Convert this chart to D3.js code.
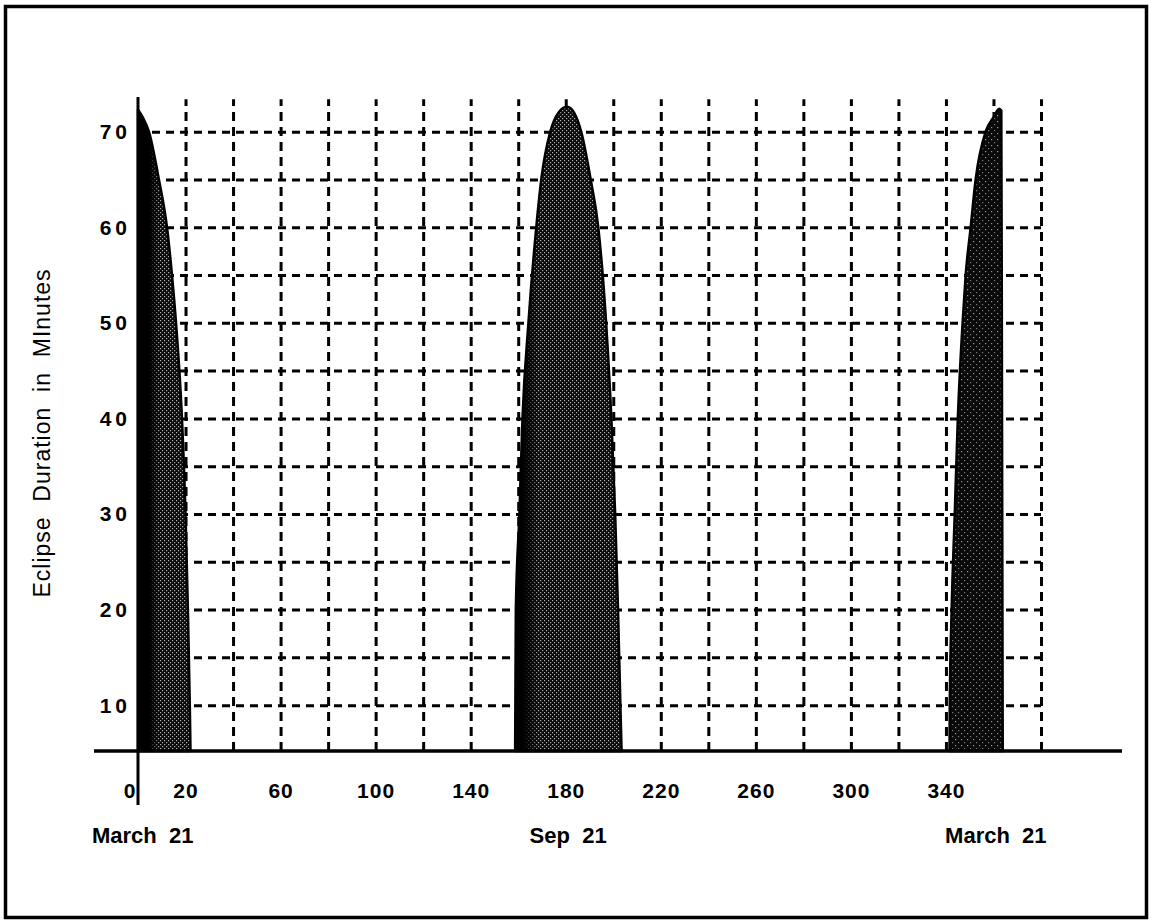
<!DOCTYPE html>
<html>
<head>
<meta charset="utf-8">
<script src="https://cdn.jsdelivr.net/npm/d3@7"></script>
<style>
  html, body { margin: 0; padding: 0; background: #fff; }
  svg { display: block; }
  text { font-family: "Liberation Sans", Arial, Helvetica, sans-serif; fill: #000; }
</style>
</head>
<body>
<svg id="chart" width="1151" height="923"></svg>
<script>
// ---- data ----
// Eclipse season 1 (around March 21, start of year)
const season1Days    = [0, 2, 4.6, 8.8, 12.2, 14.3, 16, 18.5, 20, 21, 21.8, 22.1];
const season1Minutes = [72.3, 71.5, 70, 65, 60, 55, 50, 40, 30, 20, 10, 5.2];
// Eclipse season 2 (around Sep 21)
const season2Days    = [158.7, 158.8, 159, 160.5, 161.8, 164.3, 167.6, 169.7, 173.5, 177, 180.5, 183.5, 186.5, 190.5, 193.7, 197, 199.2, 200.8, 202, 203, 203.5];
const season2Minutes = [5.2, 10, 20, 30, 40, 50, 60, 65, 70, 72, 72.6, 72, 70, 65, 60, 50, 40, 30, 20, 10, 5.2];
// Eclipse season 3 (around March 21, end of year)
const season3Days    = [341.5, 341.6, 342.4, 343.7, 345, 347, 348.3, 350.4, 352.5, 356.7, 360, 362.4, 363.3, 363.6, 363.9];
const season3Minutes = [5.2, 10, 20, 30, 40, 50, 55, 60, 65, 70, 71.5, 72.4, 72.2, 40, 5.2];

const xTickLabels  = [0, 20, 60, 100, 140, 180, 220, 260, 300, 340];
const xGridValues  = [20, 40, 60, 80, 100, 120, 140, 160, 180, 200, 220, 240, 260, 280, 300, 320, 340, 360, 380];
const yTickLabels  = [10, 20, 30, 40, 50, 60, 70];
const yGridValues  = [10, 15, 20, 25, 30, 35, 40, 45, 50, 55, 60, 65, 70];
const dateLabels   = ["March  21", "Sep  21", "March  21"];
const dateDays     = [2, 181, 361];
const yTitle       = "Eclipse  Duration  in  MInutes";

// ---- layout ----
const svg = d3.select("#chart");
const x = d3.scaleLinear().domain([0, 380]).range([138, 1041]);
const y = d3.scaleLinear().domain([5.2, 73.4]).range([751, 99.2]);
const baseY = y(5.2);

// frame
svg.append("rect")
  .attr("x", 5.5).attr("y", 6.5).attr("width", 1141).attr("height", 911)
  .attr("fill", "none").attr("stroke", "#000").attr("stroke-width", 3.5);

// patterns
const defs = svg.append("defs");
const p1 = defs.append("pattern").attr("id", "stip").attr("patternUnits", "userSpaceOnUse")
  .attr("width", 4).attr("height", 4);
p1.append("rect").attr("width", 4).attr("height", 4).attr("fill", "#0a0a0a");
p1.append("rect").attr("x", 0).attr("y", 0).attr("width", 1.2).attr("height", 1.2).attr("fill", "#b0b0b0");
p1.append("rect").attr("x", 2).attr("y", 2).attr("width", 1.2).attr("height", 1.2).attr("fill", "#b0b0b0");

const p2 = defs.append("pattern").attr("id", "stipDark").attr("patternUnits", "userSpaceOnUse")
  .attr("width", 6).attr("height", 6);
p2.append("rect").attr("width", 6).attr("height", 6).attr("fill", "#0a0a0a");
p2.append("rect").attr("x", 1).attr("y", 1).attr("width", 1.2).attr("height", 1.2).attr("fill", "#9a9a9a");
p2.append("rect").attr("x", 4).attr("y", 4).attr("width", 1.2).attr("height", 1.2).attr("fill", "#777");

function leftDark(id, stop1, stop2) {
  const g = defs.append("linearGradient").attr("id", id)
    .attr("x1", "0%").attr("x2", "100%").attr("y1", "0%").attr("y2", "0%");
  g.append("stop").attr("offset", "0%").attr("stop-color", "#000").attr("stop-opacity", 1);
  g.append("stop").attr("offset", stop1).attr("stop-color", "#000").attr("stop-opacity", 1);
  g.append("stop").attr("offset", stop2).attr("stop-color", "#000").attr("stop-opacity", 0);
  g.append("stop").attr("offset", "100%").attr("stop-color", "#000").attr("stop-opacity", 0);
}
leftDark("g1", "22%", "40%");
leftDark("g2", "8%", "22%");

// grid lines
const dashStyle = sel => sel.selectAll(".tick line")
  .attr("stroke", "#000").attr("stroke-width", 3);

const xGrid = svg.append("g").attr("transform", `translate(0,${baseY})`)
  .call(d3.axisBottom(x).tickValues(xGridValues).tickSize(-(baseY - y(73.4))).tickFormat(""));
xGrid.select(".domain").remove();
dashStyle(xGrid);
xGrid.selectAll(".tick line").attr("stroke-dasharray", "9,6");

const yGrid = svg.append("g").attr("transform", `translate(${x(0)},0)`)
  .call(d3.axisLeft(y).tickValues(yGridValues).tickSize(-(x(380) - x(0))).tickFormat(""));
yGrid.select(".domain").remove();
dashStyle(yGrid);
yGrid.selectAll(".tick line").attr("stroke-dasharray", "8,6");

// eclipse seasons
const area = d3.area()
  .x(d => x(d[0]))
  .y0(baseY)
  .y1(d => y(d[1]))
  .curve(d3.curveMonotoneX);

const seasons = [
  { pts: d3.zip(season1Days, season1Minutes), fill: "url(#stip)", over: "url(#g1)" },
  { pts: d3.zip(season2Days, season2Minutes), fill: "url(#stip)", over: "url(#g2)" },
  { pts: d3.zip(season3Days, season3Minutes), fill: "url(#stipDark)", over: null }
];
seasons.forEach(s => {
  svg.append("path").attr("d", area(s.pts))
    .attr("fill", s.fill).attr("stroke", "#000").attr("stroke-width", 2.5)
    .attr("stroke-linejoin", "round");
  if (s.over) {
    svg.append("path").attr("d", area(s.pts)).attr("fill", s.over).attr("stroke", "none");
  }
});

// baseline and left axis line
svg.append("line").attr("x1", 94).attr("x2", 1122).attr("y1", baseY).attr("y2", baseY)
  .attr("stroke", "#000").attr("stroke-width", 3.5);
svg.append("line").attr("x1", x(0)).attr("x2", x(0)).attr("y1", 97).attr("y2", 805)
  .attr("stroke", "#000").attr("stroke-width", 3);

// x tick labels
const xAx = svg.append("g").attr("transform", `translate(0,${baseY})`)
  .call(d3.axisBottom(x).tickValues(xTickLabels).tickSize(0).tickPadding(32).tickFormat(d3.format("d")));
xAx.select(".domain").remove();
xAx.selectAll("text")
  .attr("font-size", 21).attr("font-family", "Liberation Sans, Arial, sans-serif")
  .style("font-weight", "bold")
  .style("letter-spacing", "1px").attr("fill", "#000");
xAx.selectAll(".tick").filter(d => d === 0).select("text")
  .attr("text-anchor", "end").attr("dx", -2);

// y tick labels
const yAx = svg.append("g").attr("transform", `translate(${x(0)},0)`)
  .call(d3.axisLeft(y).tickValues(yTickLabels).tickSize(0).tickPadding(7).tickFormat(d3.format("d")));
yAx.select(".domain").remove();
yAx.selectAll("text")
  .attr("font-size", 21).attr("font-family", "Liberation Sans, Arial, sans-serif")
  .style("font-weight", "bold")
  .style("letter-spacing", "4px").attr("fill", "#000").attr("dy", "0.33em");

// date labels
svg.append("g").selectAll("text").data(dateLabels).join("text")
  .attr("x", (d, i) => x(dateDays[i]))
  .attr("y", 843)
  .attr("text-anchor", "middle")
  .attr("font-size", 22)
  .style("font-weight", "bold")
  .style("white-space", "pre")
  .text(d => d);

// y title
svg.append("text")
  .attr("transform", "translate(50,433) rotate(-90)")
  .attr("text-anchor", "middle")
  .attr("font-size", 23)
  .style("font-weight", "normal")
  .style("letter-spacing", "1px")
  .style("white-space", "pre")
  .text(yTitle);
</script>
</body>
</html>
